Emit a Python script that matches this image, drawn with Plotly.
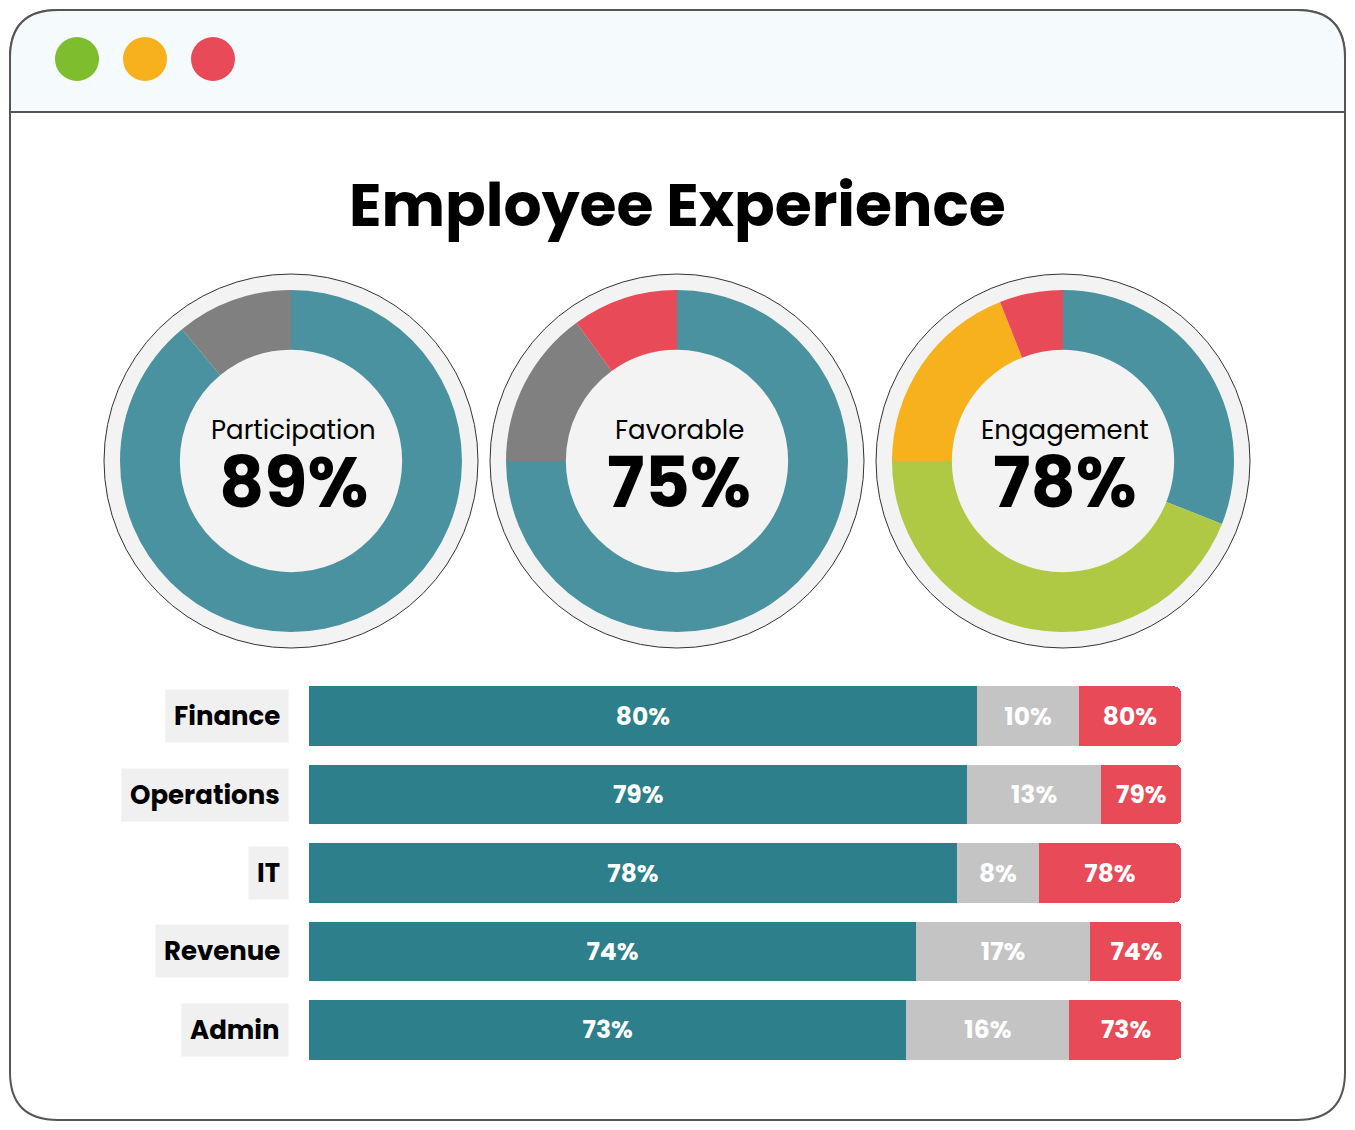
import plotly.graph_objects as go

W, H = 1355, 1130
OFF = 8  # page margin around the plot

# Donut data
donut_titles = ["Participation", "Favorable", "Engagement"]
donut_values_text = ["89%", "75%", "78%"]
participation = [75, 14, 11]
favorable = [75, 15, 10]
engagement = [31, 44, 19, 6]
participation_colors = ["#4a92a0", "#4a92a0", "#808080"]
favorable_colors = ["#4a92a0", "#808080", "#e84a57"]
engagement_colors = ["#4a92a0", "#afc945", "#f7b11c", "#e84a57"]

# Bar data
departments = ["Finance", "Operations", "IT", "Revenue", "Admin"]
favorable_share = [76.6, 75.5, 74.3, 69.6, 68.5]
neutral_share = [11.7, 15.3, 9.4, 20.0, 18.7]
unfavorable_share = [11.7, 9.3, 16.3, 10.6, 13.0]
favorable_lbl = ["80%", "79%", "78%", "74%", "73%"]
neutral_lbl = ["10%", "13%", "8%", "17%", "16%"]
unfavorable_lbl = ["80%", "79%", "78%", "74%", "73%"]

FW, FH = W - 2 * OFF, H - 2 * OFF


def px(x):
    return (x - OFF) / FW


def py(y):
    return 1 - (y - OFF) / FH


fig = go.Figure()

r = 48
L, T, Rr, B = 10, 10, 1345, 1120
frame = (f"M {px(L+r)},{py(T)} L {px(Rr-r)},{py(T)} Q {px(Rr)},{py(T)} {px(Rr)},{py(T+r)} "
         f"L {px(Rr)},{py(B-r)} Q {px(Rr)},{py(B)} {px(Rr-r)},{py(B)} "
         f"L {px(L+r)},{py(B)} Q {px(L)},{py(B)} {px(L)},{py(B-r)} "
         f"L {px(L)},{py(T+r)} Q {px(L)},{py(T)} {px(L+r)},{py(T)} Z")
header = (f"M {px(L)},{py(112)} L {px(L)},{py(T+r)} Q {px(L)},{py(T)} {px(L+r)},{py(T)} "
          f"L {px(Rr-r)},{py(T)} Q {px(Rr)},{py(T)} {px(Rr)},{py(T+r)} L {px(Rr)},{py(112)} Z")
shapes = [
    dict(type="path", xref="paper", yref="paper", path=frame, fillcolor="white",
         line=dict(color="#555555", width=2), layer="below"),
    dict(type="path", xref="paper", yref="paper", path=header, fillcolor="#f5fafd",
         line=dict(color="#555555", width=2), layer="below"),
]
for cx, col in zip([77, 145, 213], ["#7ebd2e", "#f7b11c", "#e84a57"]):
    shapes.append(dict(type="circle", xref="paper", yref="paper",
                       x0=px(cx - 22), x1=px(cx + 22), y0=py(59 + 22), y1=py(59 - 22),
                       fillcolor=col, line=dict(width=0), layer="below"))

centers = [291, 677, 1063]
cy = 461
R_out, R_pie = 187, 171
for cx in centers:
    shapes.append(dict(type="circle", xref="paper", yref="paper",
                       x0=px(cx - R_out), x1=px(cx + R_out), y0=py(cy + R_out), y1=py(cy - R_out),
                       fillcolor="#f3f3f3", line=dict(color="#333333", width=1), layer="below"))

for cx, vals, cols in zip(centers, [participation, favorable, engagement],
                          [participation_colors, favorable_colors, engagement_colors]):
    fig.add_trace(go.Pie(values=vals, marker=dict(colors=cols, line=dict(width=0)),
                         hole=0.65, sort=False, direction="clockwise", rotation=0,
                         textinfo="none", hoverinfo="skip", showlegend=False,
                         domain=dict(x=[px(cx - R_pie), px(cx + R_pie)],
                                     y=[py(cy + R_pie), py(cy - R_pie)])))

for vals, lbl, col in [(favorable_share, favorable_lbl, "#2c7f8b"),
                       (neutral_share, neutral_lbl, "#c4c4c4"),
                       (unfavorable_share, unfavorable_lbl, "#e84a57")]:
    fig.add_trace(go.Bar(y=departments, x=vals, orientation="h", marker=dict(color=col, line=dict(width=0)),
                         text=[f"<b>{t}</b>" for t in lbl], textposition="inside", insidetextanchor="middle",
                         textfont=dict(color="white", size=25, family="Poppins, Open Sans, sans-serif"),
                         showlegend=False, hoverinfo="skip"))

annotations = [dict(text="<b>Employee Experience</b>", x=0.5, y=py(205), xref="paper", yref="paper",
                    xanchor="center", yanchor="middle",
                    showarrow=False, font=dict(size=60, color="black"))]
for cx, t, v in zip(centers, donut_titles, donut_values_text):
    annotations.append(dict(text=t, x=px(cx + 2), y=py(430), xref="paper", yref="paper",
                            xanchor="center", yanchor="middle",
                            showarrow=False, font=dict(size=26, color="black")))
    annotations.append(dict(text=f"<b>{v}</b>", x=px(cx + 2), y=py(482), xref="paper", yref="paper",
                            xanchor="center", yanchor="middle",
                            showarrow=False, font=dict(size=70, color="black")))
for dep in departments:
    annotations.append(dict(text=f"<b>{dep}</b>", x=px(289), y=dep, xref="paper", yref="y",
                            xanchor="right", yanchor="middle", showarrow=False,
                            bgcolor="#f0f0f0", borderpad=8,
                            font=dict(size=26, color="black")))

fig.update_layout(
    width=FW, height=FH, margin=dict(l=0, r=0, t=0, b=0),
    paper_bgcolor="white", plot_bgcolor="rgba(0,0,0,0)",
    font=dict(family="Poppins, Open Sans, sans-serif"),
    barmode="stack", bargap=0.24, barcornerradius=7,
    xaxis=dict(domain=[px(309), px(1181)], range=[0, 100], visible=False),
    yaxis=dict(domain=[py(1069), py(677)], autorange="reversed", visible=False),
    shapes=shapes, annotations=annotations,
)

fig.write_html("out.html")
